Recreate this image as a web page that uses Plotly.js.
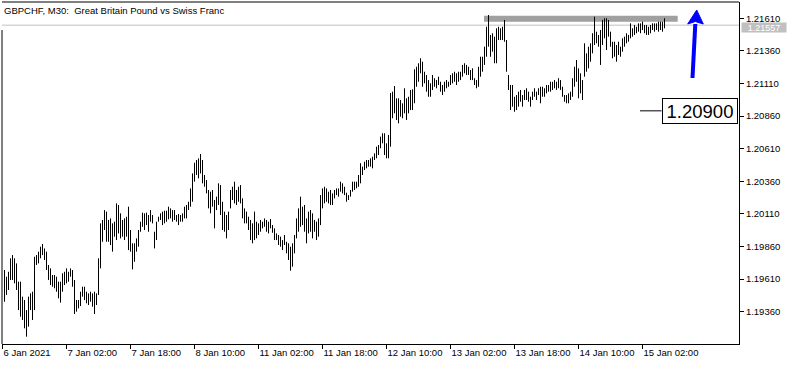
<!DOCTYPE html>
<html>
<head>
<meta charset="utf-8">
<script src="https://cdn.plot.ly/plotly-3.0.1.min.js"></script>
<style>html,body{margin:0;padding:0;background:#fff;}#chart{width:792px;height:365px;}</style>
</head>
<body>
<div id="chart"></div>
<script>
// GBPCHF M30 bar highs / lows (bar index 0 = 6 Jan 2021 10:30)
const highs = [
1.19679,1.19628,1.19666,1.19769,1.19794,1.19769,1.19730,1.19590,1.19590,1.19475,
1.19449,1.19372,1.19475,1.19500,1.19513,1.19781,1.19794,1.19820,1.19858,1.19879,
1.19845,1.19820,1.19718,1.19692,1.19641,1.19641,1.19628,1.19590,1.19590,1.19654,
1.19666,1.19692,1.19666,1.19692,1.19679,1.19603,1.19449,1.19449,1.19513,1.19551,
1.19551,1.19513,1.19500,1.19513,1.19500,1.19513,1.19500,1.19769,1.20037,1.20063,
1.20139,1.20127,1.20063,1.20075,1.20037,1.20050,1.20190,1.20178,1.20114,1.20063,
1.20075,1.20088,1.20165,1.19986,1.19884,1.19884,1.19922,1.19986,1.20050,1.20119,
1.20114,1.20119,1.20101,1.20139,1.20101,1.19973,1.20050,1.20088,1.20114,1.20127,
1.20134,1.20134,1.20165,1.20152,1.20139,1.20139,1.20101,1.20109,1.20101,1.20114,
1.20165,1.20178,1.20203,1.20305,1.20420,1.20502,1.20523,1.20535,1.20569,1.20523,
1.20408,1.20369,1.20293,1.20280,1.20293,1.20216,1.20242,1.20344,1.20331,1.20203,
1.20127,1.20101,1.20127,1.20293,1.20318,1.20357,1.20293,1.20318,1.20331,1.20229,
1.20152,1.20127,1.20088,1.20063,1.20037,1.20127,1.20050,1.20037,1.20063,1.20050,
1.20075,1.20063,1.20050,1.20070,1.20024,1.19999,1.19960,1.19948,1.19935,1.19909,
1.19948,1.19896,1.19884,1.19858,1.19884,1.19948,1.20075,1.20152,1.20242,1.20165,
1.20178,1.20075,1.20127,1.20139,1.20114,1.20063,1.20050,1.20075,1.20254,1.20305,
1.20318,1.20305,1.20280,1.20293,1.20267,1.20293,1.20305,1.20305,1.20357,1.20344,
1.20318,1.20272,1.20254,1.20293,1.20357,1.20357,1.20357,1.20408,1.20498,1.20472,
1.20510,1.20523,1.20523,1.20536,1.20548,1.20574,1.20625,1.20638,1.20702,1.20728,
1.20728,1.20651,1.20715,1.21037,1.21047,1.21090,1.20996,1.20996,1.20983,1.20958,
1.21073,1.20996,1.21008,1.21060,1.21065,1.21219,1.21238,1.21265,1.21303,1.21277,
1.21200,1.21175,1.21136,1.21111,1.21175,1.21150,1.21136,1.21162,1.21123,1.21098,
1.21123,1.21136,1.21123,1.21175,1.21188,1.21200,1.21188,1.21200,1.21200,1.21252,
1.21265,1.21252,1.21238,1.21213,1.21226,1.21150,1.21136,1.21238,1.21315,1.21315,
1.21392,1.21545,1.21635,1.21482,1.21495,1.21469,1.21533,1.21545,1.21533,1.21545,
1.21597,1.21443,1.21175,1.21098,1.21098,1.21008,1.21021,1.21047,1.21060,1.21021,
1.21060,1.21073,1.21047,1.21008,1.21047,1.21073,1.21047,1.21073,1.21085,1.21085,
1.21073,1.21098,1.21098,1.21123,1.21123,1.21136,1.21123,1.21150,1.21136,1.21085,
1.21021,1.21021,1.21034,1.21047,1.21150,1.21238,1.21290,1.21226,1.21188,1.21136,
1.21418,1.21341,1.21392,1.21418,1.21495,1.21622,1.21507,1.21482,1.21520,1.21597,
1.21610,1.21610,1.21597,1.21507,1.21430,1.21430,1.21405,1.21430,1.21392,1.21456,
1.21469,1.21495,1.21482,1.21571,1.21533,1.21558,1.21545,1.21571,1.21571,1.21584,
1.21558,1.21558,1.21545,1.21558,1.21571,1.21571,1.21571,1.21584,1.21584,1.21584,
1.21610
];
const lows = [
1.19436,1.19488,1.19526,1.19603,1.19603,1.19577,1.19526,1.19372,1.19321,1.19296,
1.19232,1.19168,1.19245,1.19372,1.19296,1.19372,1.19718,1.19730,1.19769,1.19794,
1.19756,1.19679,1.19603,1.19564,1.19551,1.19539,1.19513,1.19462,1.19429,1.19513,
1.19564,1.19577,1.19590,1.19628,1.19551,1.19342,1.19360,1.19385,1.19403,1.19475,
1.19449,1.19424,1.19411,1.19436,1.19398,1.19342,1.19411,1.19488,1.19692,1.19896,
1.19986,1.19896,1.19896,1.19871,1.19820,1.19935,1.19909,1.19960,1.19922,1.19935,
1.19909,1.19935,1.19832,1.19820,1.19684,1.19743,1.19820,1.19858,1.19973,1.20011,
1.19986,1.20024,1.19973,1.20050,1.20037,1.19845,1.19909,1.20050,1.20063,1.20024,
1.20037,1.20050,1.20068,1.20075,1.20050,1.20063,1.20050,1.20024,1.20050,1.20050,
1.20075,1.20075,1.20139,1.20165,1.20203,1.20357,1.20408,1.20382,1.20420,1.20344,
1.20318,1.20267,1.20152,1.20114,1.20165,1.19999,1.20139,1.20178,1.20101,1.19986,
1.19973,1.19922,1.19986,1.20152,1.20216,1.20190,1.20178,1.20203,1.20190,1.20075,
1.20037,1.20037,1.19986,1.19909,1.19884,1.19909,1.19922,1.19948,1.19973,1.19999,
1.20011,1.19973,1.19960,1.19999,1.19965,1.19909,1.19909,1.19871,1.19858,1.19832,
1.19871,1.19807,1.19756,1.19674,1.19705,1.19807,1.19922,1.19973,1.20011,1.20024,
1.19973,1.19884,1.19960,1.19973,1.19922,1.19973,1.19909,1.19935,1.20024,1.20152,
1.20190,1.20203,1.20190,1.20178,1.20178,1.20229,1.20254,1.20242,1.20280,1.20267,
1.20254,1.20203,1.20216,1.20242,1.20280,1.20293,1.20306,1.20318,1.20344,1.20408,
1.20446,1.20459,1.20472,1.20472,1.20459,1.20523,1.20536,1.20561,1.20613,1.20651,
1.20561,1.20536,1.20536,1.20625,1.20843,1.20881,1.20830,1.20804,1.20855,1.20843,
1.20881,1.20830,1.20881,1.20906,1.20906,1.20958,1.21085,1.21123,1.21188,1.21085,
1.21111,1.21047,1.21008,1.21008,1.21060,1.21085,1.21073,1.21098,1.21047,1.21021,
1.21047,1.21073,1.21085,1.21098,1.21111,1.21123,1.21098,1.21123,1.21136,1.21162,
1.21188,1.21175,1.21175,1.21136,1.21136,1.21098,1.21073,1.21085,1.21162,1.21200,
1.21252,1.21315,1.21392,1.21315,1.21354,1.21265,1.21265,1.21443,1.21443,1.21443,
1.21430,1.21200,1.21060,1.20906,1.20932,1.20893,1.20906,1.20932,1.20970,1.20932,
1.20983,1.20983,1.20970,1.20932,1.20983,1.21008,1.20983,1.21021,1.20958,1.21008,
1.21008,1.21034,1.21047,1.21047,1.21060,1.21073,1.21060,1.21073,1.21060,1.21008,
1.20970,1.20958,1.20958,1.20983,1.21008,1.21085,1.21123,1.20996,1.21034,1.20983,
1.21162,1.21200,1.21226,1.21277,1.21341,1.21405,1.21418,1.21392,1.21252,1.21405,
1.21456,1.21367,1.21469,1.21392,1.21303,1.21315,1.21277,1.21328,1.21315,1.21354,
1.21392,1.21418,1.21430,1.21456,1.21469,1.21482,1.21495,1.21507,1.21495,1.21520,
1.21495,1.21482,1.21482,1.21495,1.21520,1.21507,1.21520,1.21507,1.21520,1.21507,
1.21533
];
const timeLabels = ["6 Jan 2021","7 Jan 02:00","7 Jan 18:00","8 Jan 10:00","11 Jan 02:00",
  "11 Jan 18:00","12 Jan 10:00","13 Jan 02:00","13 Jan 18:00","14 Jan 10:00","15 Jan 02:00"];
const labelBarIndex = [-1,31,63,95,127,159,191,223,255,287,319];
const bid = 1.21557;
const resistance = {price:1.21606, from:239.75, to:336.6};
const markLevel = 1.20900;
const markLine = {from:317.75, to:328.5};
const arrow = {x0:344.0, y0:1.21152, x1:345.4, y1:1.21566, headL:341.6, headR:349.4, tipX:346.1, tipY:1.21673, notch:1.21585};

// build vertical high-low bars from the arrays
const bx = [], by = [];
for (let i = 0; i < highs.length; i++) {
  bx.push(i, i, null);
  by.push(lows[i], highs[i], null);
}

const fontFam = "Liberation Sans, Arial, sans-serif";
const trace = {
  type: 'scatter', mode: 'lines', x: bx, y: by,
  line: {color: '#000000', width: 1}, hoverinfo: 'skip', connectgaps: false
};

const layout = {
  width: 792, height: 365,
  margin: {l: 2, r: 53, t: 2, b: 21, pad: 0},
  paper_bgcolor: '#ffffff', plot_bgcolor: '#ffffff',
  showlegend: false,
  title: {text: 'GBPCHF, M30:  Great Britain Pound vs Swiss Franc', x: 4/792, xanchor: 'left', xref: 'container',
          y: 1 - 11/365, yref: 'container', yanchor: 'middle', font: {family: fontFam, size: 9.5, color: '#000'}},
  xaxis: {
    range: [-1.25, 367.25], showgrid: false, zeroline: false,
    showline: true, linecolor: '#000', linewidth: 1, mirror: false,
    tickmode: 'array', tickvals: labelBarIndex, ticktext: timeLabels,
    ticks: 'outside', ticklen: 4, tickcolor: '#000', tickwidth: 1,
    ticklabelposition: 'outside right',
    tickfont: {family: fontFam, size: 9.5, color: '#000'}, fixedrange: true
  },
  yaxis: {
    range: [1.191119, 1.217347], side: 'right', showgrid: false, zeroline: false,
    showline: true, linecolor: '#000', linewidth: 1,
    tick0: 1.19360, dtick: 0.0025, tickformat: '.5f',
    ticks: 'outside', ticklen: 4, tickcolor: '#000', tickwidth: 1,
    tickfont: {family: fontFam, size: 9.5, color: '#000'}, fixedrange: true
  },
  shapes: [
    {type: 'line', xref: 'paper', yref: 'y', x0: 0, x1: 1, y0: bid, y1: bid, line: {color: '#c0c0c0', width: 1}, layer: 'below'},
    {type: 'line', xref: 'x', yref: 'y', x0: resistance.from, x1: resistance.to, y0: resistance.price, y1: resistance.price,
     line: {color: '#a0a0a0', width: 6}, layer: 'below'},
    {type: 'line', xref: 'x', yref: 'y', x0: markLine.from, x1: markLine.to, y0: markLevel, y1: markLevel, line: {color: '#000', width: 1}},
    {type: 'line', xref: 'x', yref: 'y', x0: arrow.x0, y0: arrow.y0, x1: arrow.x1, y1: arrow.y1, line: {color: '#0000ff', width: 4}},
    {type: 'path', xref: 'x', yref: 'y',
     path: `M ${arrow.headL},${arrow.y1} L ${arrow.tipX},${arrow.tipY} L ${arrow.headR},${arrow.y1} L ${arrow.x1},${arrow.notch} Z`,
     fillcolor: '#0000ff', line: {color: '#0000ff', width: 1}},
    {type: 'line', xref: 'paper', yref: 'paper', x0: 0, x1: 0, y0: 0, y1: 1 - 28/342, line: {color: '#000', width: 1}},
    {type: 'line', xref: 'paper', yref: 'paper', x0: 0, x1: 1, y0: 1, y1: 1, line: {color: '#000', width: 1}}
  ],
  annotations: [
    {xref: 'paper', yref: 'y', x: 1, y: markLevel, xanchor: 'right', yanchor: 'middle', xshift: -1,
     text: markLevel.toFixed(5), showarrow: false, font: {family: fontFam, size: 18.5, color: '#000'},
     bgcolor: '#ffffff', bordercolor: '#000', borderwidth: 1, borderpad: 1, width: 72, height: 22},
    {xref: 'paper', yref: 'y', x: 1, y: bid, xanchor: 'left', yanchor: 'middle', xshift: 2, yshift: -2,
     text: bid.toFixed(5), showarrow: false, font: {family: fontFam, size: 9, color: '#ffffff'},
     bgcolor: '#c0c0c0', borderpad: 1, width: 42, height: 7}
  ]
};

Plotly.newPlot('chart', [trace], layout, {displayModeBar: false, staticPlot: true});
</script>
</body>
</html>
